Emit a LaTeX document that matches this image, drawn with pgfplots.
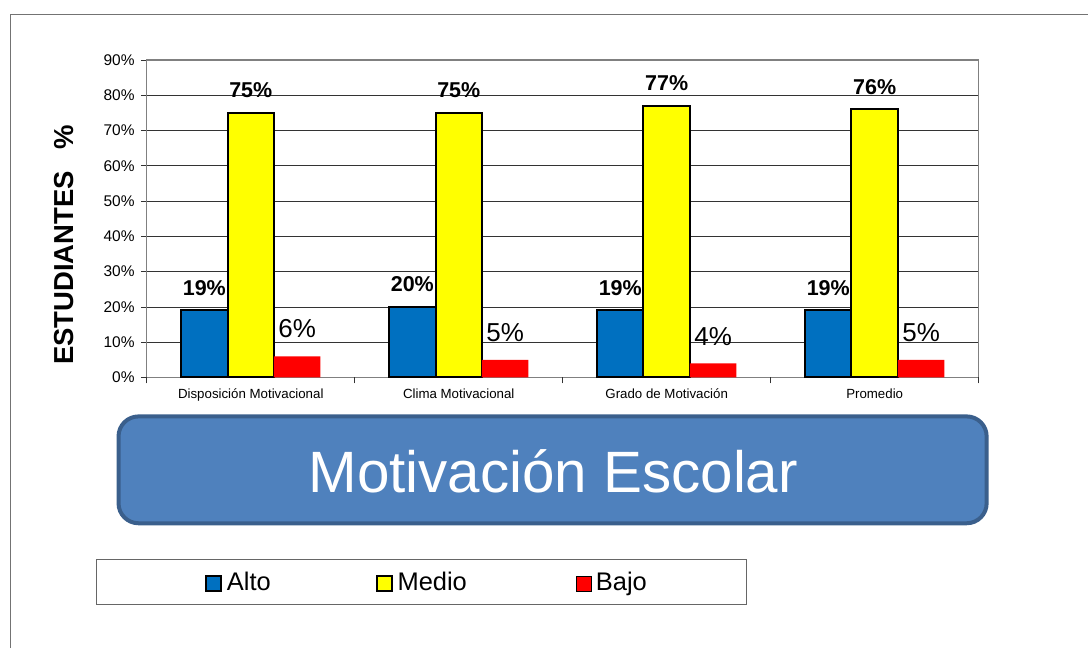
\documentclass[border=0pt]{standalone}
\usepackage{pgfplots}
\pgfplotsset{compat=1.18}
\usepackage{fontspec}
\setmainfont{Liberation Sans}
\definecolor{altoC}{HTML}{0070C0}
\definecolor{medioC}{HTML}{FFFF00}
\definecolor{bajoC}{HTML}{FF0000}
\definecolor{boxC}{HTML}{4F81BD}
\definecolor{boxB}{HTML}{3A5F8C}
\newcommand{\fs}[1]{\fontsize{#1}{#1}\selectfont}
\begin{document}
\begin{tikzpicture}
\path (0pt,0pt) rectangle (1088pt,648pt);
\draw[black!55, line width=1pt] (11pt,-1pt) -- (11pt,633pt) -- (1089pt,633pt);
\draw[boxB, fill=boxC, line width=4pt, rounded corners=20pt] (118.7pt,124pt) rectangle (988pt,231pt);
\node[white, font=\fs{58.4}, anchor=base, inner sep=0pt] at (554pt,155pt) {Motivación Escolar};
\draw[black!60, line width=1pt] (97pt,43pt) rectangle (748pt,88pt);
\begin{axis}[
 at={(147pt,270pt)}, anchor=south west,
 width=833pt, height=318pt, scale only axis,
 xmin=-0.5, xmax=3.5, ymin=0, ymax=90,
 ybar=0pt, bar width=46.5pt,
 /pgf/number format/assume math mode=true,
 axis line style={black!50, line width=1.2pt},
 ymajorgrids, grid style={black!80, line width=0.8pt},
 ytick={0,10,...,90},
 yticklabels={0\%,10\%,20\%,30\%,40\%,50\%,60\%,70\%,80\%,90\%},
 yticklabel style={font=\fs{15.5}, inner sep=2pt, xshift=-4pt},
 xtick={0,1,2,3},
 xticklabels={Disposición Motivacional,Clima Motivacional,Grado de Motivación,Promedio},
 xticklabel style={font=\fs{13.3}, yshift=-2pt},
 x tick style={draw=none},
 y tick style={black!80, line width=0.8pt},
 major tick length=6pt,
 tick align=outside, tick pos=left,
 extra x ticks={-0.5,0.5,1.5,2.5,3.5},
 extra x tick labels={},
 extra x tick style={grid=none, x tick style={draw=black!80, line width=0.8pt}},
 ylabel={ESTUDIANTES\hspace{22pt}\%},
 ylabel style={font=\bfseries\fs{27.5}, at={(axis description cs:-0.0995,0.418)}, anchor=center},
 nodes near coords={\pgfmathprintnumber{\pgfplotspointmeta}\%},
 every node near coord/.append style={font=\bfseries\fs{21.5}, inner sep=0pt, yshift=14pt, black},
 legend columns=3,
 legend style={at={(axis description cs:0.0660,-0.644)}, anchor=west, draw=none, fill=none,
   font=\fs{25.5}, nodes={inner sep=2pt},
   /tikz/column 2/.style={column sep=103pt},
   /tikz/column 4/.style={column sep=107pt}},
 legend image code/.code={\draw[#1] (0pt,-9pt) rectangle (15pt,6pt); \path (18pt,0pt);},
]
\addplot[fill=altoC, draw=black, line width=2pt] coordinates {(0,19) (1,20) (2,19) (3,19)};
\addlegendentry{Alto}
\addplot[fill=medioC, draw=black, line width=2pt] coordinates {(0,75) (1,75) (2,77) (3,76)};
\addlegendentry{Medio}
\addplot[fill=bajoC, draw=none, every node near coord/.append style={font=\mdseries\fs{26}, yshift=4pt}] coordinates {(0,6) (1,5) (2,4) (3,5)};
\addlegendentry{Bajo}
\end{axis}
\end{tikzpicture}
\end{document}
